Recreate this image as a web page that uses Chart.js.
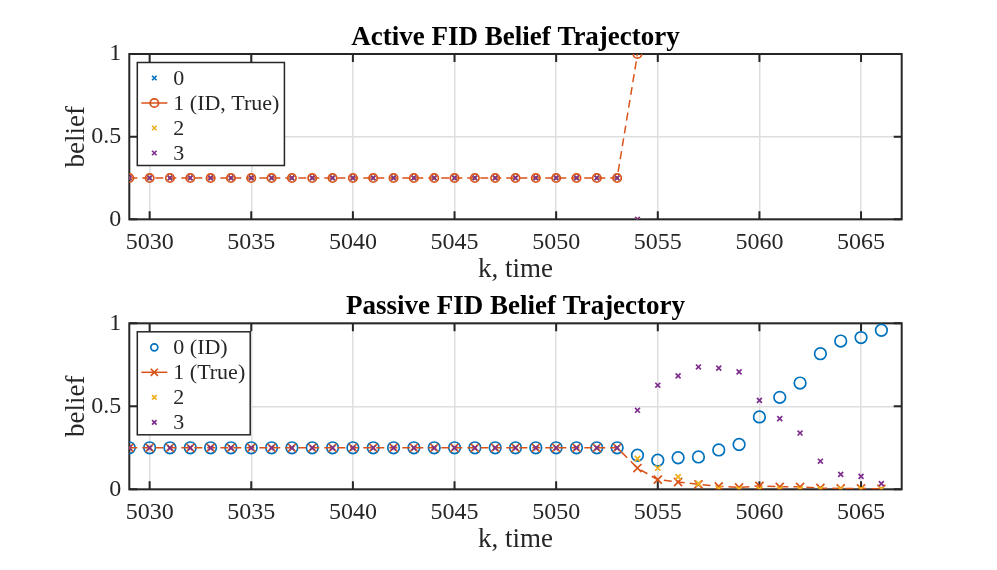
<!DOCTYPE html>
<html>
<head>
<meta charset="utf-8">
<script src="https://cdn.jsdelivr.net/npm/chart.js@4.4.1/dist/chart.umd.min.js"></script>
<style>
  html, body { margin: 0; padding: 0; background: #fff; }
  canvas { display: block; }
</style>
</head>
<body>
<canvas id="activeChart" width="997" height="285"></canvas>
<canvas id="passiveChart" width="997" height="285"></canvas>
<script>
// time steps
const activeK = [5029, 5030, 5031, 5032, 5033, 5034, 5035, 5036, 5037, 5038, 5039, 5040, 5041,
  5042, 5043, 5044, 5045, 5046, 5047, 5048, 5049, 5050, 5051, 5052, 5053, 5054];
const passiveK = [5029, 5030, 5031, 5032, 5033, 5034, 5035, 5036, 5037, 5038, 5039, 5040, 5041,
  5042, 5043, 5044, 5045, 5046, 5047, 5048, 5049, 5050, 5051, 5052, 5053, 5054, 5055, 5056,
  5057, 5058, 5059, 5060, 5061, 5062, 5063, 5064, 5065, 5066];

// active FID beliefs per hypothesis
const active0 = [0.25, 0.25, 0.25, 0.25, 0.25, 0.25, 0.25, 0.25, 0.25, 0.25, 0.25, 0.25, 0.25,
  0.25, 0.25, 0.25, 0.25, 0.25, 0.25, 0.25, 0.25, 0.25, 0.25, 0.25, 0.25, 0];
const active1 = [0.25, 0.25, 0.25, 0.25, 0.25, 0.25, 0.25, 0.25, 0.25, 0.25, 0.25, 0.25, 0.25,
  0.25, 0.25, 0.25, 0.25, 0.25, 0.25, 0.25, 0.25, 0.25, 0.25, 0.25, 0.25, 1];
const active2 = [0.25, 0.25, 0.25, 0.25, 0.25, 0.25, 0.25, 0.25, 0.25, 0.25, 0.25, 0.25, 0.25,
  0.25, 0.25, 0.25, 0.25, 0.25, 0.25, 0.25, 0.25, 0.25, 0.25, 0.25, 0.25, 0];
const active3 = [0.25, 0.25, 0.25, 0.25, 0.25, 0.25, 0.25, 0.25, 0.25, 0.25, 0.25, 0.25, 0.25,
  0.25, 0.25, 0.25, 0.25, 0.25, 0.25, 0.25, 0.25, 0.25, 0.25, 0.25, 0.25, 0];

// passive FID beliefs per hypothesis
const passive0 = [0.25, 0.25, 0.25, 0.25, 0.25, 0.25, 0.25, 0.25, 0.25, 0.25, 0.25, 0.25, 0.25,
  0.25, 0.25, 0.25, 0.25, 0.25, 0.25, 0.25, 0.25, 0.25, 0.25, 0.25, 0.25,
  0.205, 0.175, 0.19, 0.195, 0.237, 0.27, 0.436, 0.554, 0.64, 0.817, 0.893, 0.914, 0.958];
const passive1 = [0.25, 0.25, 0.25, 0.25, 0.25, 0.25, 0.25, 0.25, 0.25, 0.25, 0.25, 0.25, 0.25,
  0.25, 0.25, 0.25, 0.25, 0.25, 0.25, 0.25, 0.25, 0.25, 0.25, 0.25, 0.25,
  0.128, 0.058, 0.044, 0.03, 0.018, 0.011, 0.021, 0.015, 0.015, 0.008, 0.005, 0.005, 0.003];
const passive2 = [0.25, 0.25, 0.25, 0.25, 0.25, 0.25, 0.25, 0.25, 0.25, 0.25, 0.25, 0.25, 0.25,
  0.25, 0.25, 0.25, 0.25, 0.25, 0.25, 0.25, 0.25, 0.25, 0.25, 0.25, 0.25,
  0.185, 0.128, 0.075, 0.034, 0.004, 0.002, 0.002, 0.002, 0.002, 0.002, 0.002, 0.002, 0.002];
const passive3 = [0.25, 0.25, 0.25, 0.25, 0.25, 0.25, 0.25, 0.25, 0.25, 0.25, 0.25, 0.25, 0.25,
  0.25, 0.25, 0.25, 0.25, 0.25, 0.25, 0.25, 0.25, 0.25, 0.25, 0.25, 0.25,
  0.476, 0.627, 0.683, 0.737, 0.73, 0.707, 0.536, 0.426, 0.339, 0.169, 0.09, 0.078, 0.034];

const xTickValues = [5030, 5035, 5040, 5045, 5050, 5055, 5060, 5065];
const yTickValues = [0, 0.5, 1];

const BLUE = '#0072BD', ORANGE = '#D95319', YELLOW = '#EDB120', PURPLE = '#7E2F8E';
const SERIF = '"Liberation Serif", "Times New Roman", serif';
const INK = '#262626';

const toPoints = (k, v) => k.map((x, i) => ({ x: x, y: v[i] }));

function markerSet(color, style, radius, legendRadius, order) {
    return {
        borderColor: color,
        backgroundColor: 'rgba(0,0,0,0)',
        pointStyle: style,
        pointRadius: radius,
        pointHoverRadius: radius,
        pointBorderWidth: 1.7,
        pointBorderColor: color,
        pointBackgroundColor: 'rgba(0,0,0,0)',
        legendRadius: legendRadius,
        showLine: false,
        order: order
    };
}

function drawMarker(ctx, style, r, x, y, color) {
    ctx.save();
    ctx.setLineDash([]);
    ctx.strokeStyle = color;
    ctx.lineWidth = 1.7;
    ctx.beginPath();
    if (style === 'circle') {
        ctx.arc(x, y, r, 0, Math.PI * 2);
    } else {
        const d = r * Math.SQRT1_2;
        ctx.moveTo(x - d, y - d); ctx.lineTo(x + d, y + d);
        ctx.moveTo(x + d, y - d); ctx.lineTo(x - d, y + d);
    }
    ctx.stroke();
    ctx.restore();
}

const matlabAxes = {
    id: 'matlabAxes',
    beforeDatasetsDraw(chart) {
        const { ctx, chartArea: a, scales } = chart;
        ctx.save();
        ctx.strokeStyle = INK;
        ctx.lineWidth = 2;
        const tl = 8;
        ctx.beginPath();
        xTickValues.forEach(v => {
            const px = scales.x.getPixelForValue(v);
            ctx.moveTo(px, a.bottom); ctx.lineTo(px, a.bottom - tl);
            ctx.moveTo(px, a.top); ctx.lineTo(px, a.top + tl);
        });
        yTickValues.forEach(v => {
            const py = scales.y.getPixelForValue(v);
            ctx.moveTo(a.left, py); ctx.lineTo(a.left + tl, py);
            ctx.moveTo(a.right, py); ctx.lineTo(a.right - tl, py);
        });
        ctx.stroke();
        ctx.strokeRect(a.left, a.top, a.right - a.left, a.bottom - a.top);
        ctx.restore();
    },
    afterDraw(chart, args, opts) {
        const { ctx, chartArea: a } = chart;
        const cx = (a.left + a.right) / 2;
        ctx.save();
        ctx.textAlign = 'center';
        ctx.textBaseline = 'middle';

        ctx.fillStyle = '#000';
        ctx.font = 'bold 27px ' + SERIF;
        ctx.fillText(opts.title, cx, a.top - 16);

        ctx.fillStyle = INK;
        ctx.font = '27px ' + SERIF;
        ctx.fillText(opts.xlabel, cx, a.bottom + 51);

        ctx.save();
        ctx.translate(a.left - 52, (a.top + a.bottom) / 2);
        ctx.rotate(-Math.PI / 2);
        ctx.fillText(opts.ylabel, 0, 0);
        ctx.restore();

        // legend box, inside upper left
        const sets = chart.data.datasets;
        ctx.font = '22px ' + SERIF;
        const textW = Math.max(...sets.map(d => ctx.measureText(d.label).width));
        const x0 = a.left + 8, y0 = a.top + 8.5;
        const w = 36 + textW + 5, h = 103;
        ctx.fillStyle = '#fff';
        ctx.fillRect(x0, y0, w, h);
        ctx.strokeStyle = INK;
        ctx.lineWidth = 1.5;
        ctx.strokeRect(x0, y0, w, h);

        sets.forEach((d, i) => {
            const ry = y0 + 15.5 + i * 25;
            const mx = x0 + 17;
            if (d.showLine) {
                ctx.save();
                ctx.strokeStyle = d.borderColor;
                ctx.lineWidth = 1.5;
                ctx.beginPath();
                ctx.moveTo(x0 + 4, ry); ctx.lineTo(x0 + 30, ry);
                ctx.stroke();
                ctx.restore();
            }
            drawMarker(ctx, d.pointStyle, d.legendRadius, mx, ry, d.borderColor);
            ctx.fillStyle = INK;
            ctx.textAlign = 'left';
            ctx.fillText(d.label, x0 + 36, ry + 1);
        });
        ctx.restore();
    }
};

function makeOptions(topPad, xAxisHeight, text) {
    return {
        responsive: false,
        animation: false,
        events: [],
        layout: { padding: { top: topPad, right: 95.3, left: 0, bottom: 0 } },
        plugins: {
            legend: { display: false },
            title: { display: false },
            tooltip: { enabled: false },
            matlabAxes: text
        },
        elements: { line: { tension: 0 } },
        scales: {
            x: {
                type: 'linear',
                min: 5029,
                max: 5067,
                afterBuildTicks: s => { s.ticks = xTickValues.map(v => ({ value: v })); },
                afterFit: s => { s.height = xAxisHeight; },
                grid: { color: '#dedede', lineWidth: 1.5, drawTicks: false },
                border: { display: false },
                ticks: {
                    font: { family: SERIF, size: 24 },
                    color: INK,
                    padding: 9,
                    maxRotation: 0,
                    autoSkip: false,
                    callback: v => String(v)
                }
            },
            y: {
                min: 0,
                max: 1,
                afterBuildTicks: s => { s.ticks = yTickValues.map(v => ({ value: v })); },
                afterFit: s => { s.width = 129.3; },
                grid: { color: '#dedede', lineWidth: 1.5, drawTicks: false },
                border: { display: false },
                ticks: {
                    font: { family: SERIF, size: 24 },
                    color: INK,
                    padding: 8,
                    callback: v => String(v)
                }
            }
        }
    };
}

new Chart(document.getElementById('activeChart'), {
    type: 'line',
    data: {
        datasets: [
            Object.assign(markerSet(BLUE, 'crossRot', 3.2, 3.2, 3), { label: '0', data: toPoints(activeK, active0) }),
            Object.assign(markerSet(ORANGE, 'circle', 4.2, 4.2, 2), {
                label: '1 (ID, True)', data: toPoints(activeK, active1),
                showLine: true, borderWidth: 1.5, borderDash: [8, 5]
            }),
            Object.assign(markerSet(YELLOW, 'crossRot', 3.2, 3.2, 1), { label: '2', data: toPoints(activeK, active2) }),
            Object.assign(markerSet(PURPLE, 'crossRot', 3.2, 3.2, 0), { label: '3', data: toPoints(activeK, active3) })
        ]
    },
    options: makeOptions(54, 65.7, { title: 'Active FID Belief Trajectory', xlabel: 'k, time', ylabel: 'belief' }),
    plugins: [matlabAxes]
});

new Chart(document.getElementById('passiveChart'), {
    type: 'line',
    data: {
        datasets: [
            Object.assign(markerSet(BLUE, 'circle', 5.8, 3.5, 3), { label: '0 (ID)', data: toPoints(passiveK, passive0) }),
            Object.assign(markerSet(ORANGE, 'crossRot', 5.7, 5, 2), {
                label: '1 (True)', data: toPoints(passiveK, passive1),
                showLine: true, borderWidth: 1.5, borderDash: [8, 5]
            }),
            Object.assign(markerSet(YELLOW, 'crossRot', 3.8, 3.2, 1), { label: '2', data: toPoints(passiveK, passive2) }),
            Object.assign(markerSet(PURPLE, 'crossRot', 3.5, 3.2, 0), { label: '3', data: toPoints(passiveK, passive3) })
        ]
    },
    options: makeOptions(38.3, 80.7, { title: 'Passive FID Belief Trajectory', xlabel: 'k, time', ylabel: 'belief' }),
    plugins: [matlabAxes]
});
</script>
</body>
</html>
